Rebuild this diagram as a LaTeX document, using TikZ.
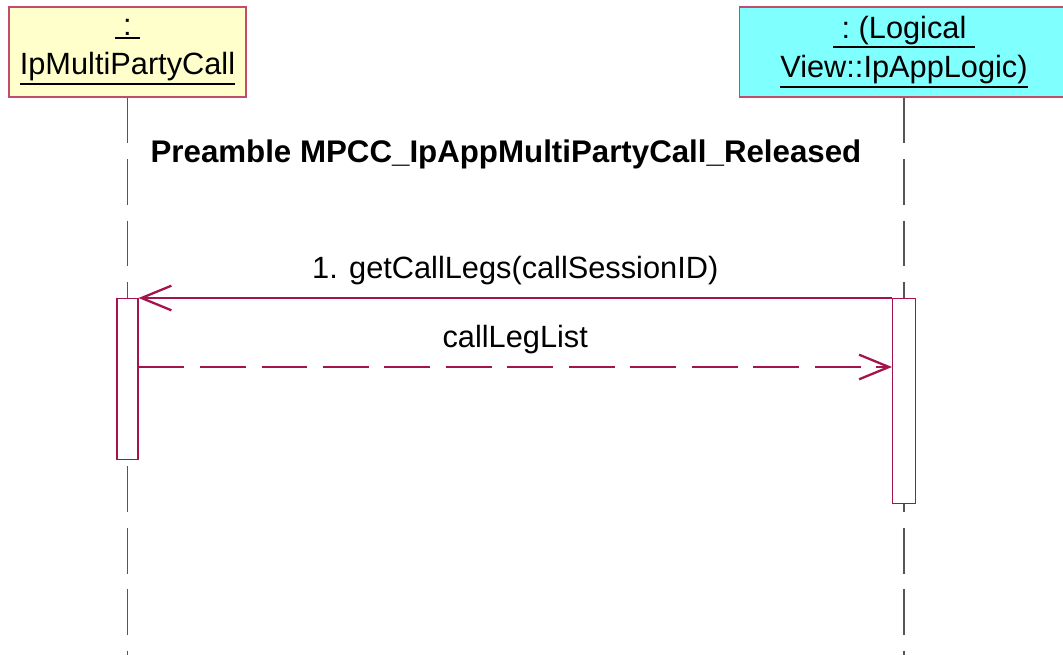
\documentclass[tikz,border=0pt]{standalone}
\usepackage{fontspec}
\setmainfont{Liberation Sans}
\usetikzlibrary{arrows.meta,positioning,calc}
\definecolor{objyellow}{HTML}{FFFFCC}
\definecolor{objcyan}{HTML}{80FFFF}
\definecolor{msgred}{HTML}{A3144C}
\definecolor{boxred}{HTML}{C04D6B}
\definecolor{lifegray}{HTML}{555555}
\newsavebox{\ulbox}
\newcommand{\ulname}[1]{\sbox{\ulbox}{#1}\leavevmode
  \rlap{\rule[\dimexpr-\dp\ulbox-2.2pt\relax]{\wd\ulbox}{1.1pt}}\usebox{\ulbox}}
\tikzset{
  objbox/.style={draw=boxred,line width=0.6pt,align=center,inner sep=0pt,
                 minimum height=1.8cm,font=\fontsize{17.5}{22.7}\selectfont},
  actbox/.style={draw=msgred,fill=white,line width=0.6pt,inner sep=0pt,
                 anchor=north},
  lifeline/.style={draw=lifegray,line width=0.6pt,dash pattern=on 26pt off 9pt},
  callarr/.style={draw=msgred,line width=0.6pt,
                  -{Straight Barb[length=17pt,width=14pt,line width=1.3pt]}},
  replyarr/.style={callarr,dash pattern=on 26pt off 9pt},
  msglabel/.style={font=\fontsize{17.5}{21}\selectfont,inner sep=2pt}
}
\begin{document}
\begin{tikzpicture}[x=0.02cm,y=-0.02cm]
  \useasboundingbox (0,0) rectangle (1063,655);
  % objects
  \node[objbox,fill=objyellow,minimum width=4.74cm] (mpc) at (127.5,52)
    {\ulname{\ :\ }\\\ulname{IpMultiPartyCall}};
  \node[objbox,fill=objcyan,minimum width=6.6cm] (app) at (904,52)
    {\ulname{\ :\ (Logical\ }\\\ulname{View::IpAppLogic)}};
  \coordinate (mpcend) at (127.5,655);
  \coordinate (append) at (904,655);
  \draw[lifeline] (mpc.south) -- (mpcend);
  \draw[lifeline] (app.south) -- (append);

  \node[font=\bfseries\fontsize{17.8}{21}\selectfont] (pre) at (506,154)
    {Preamble MPCC\_IpAppMultiPartyCall\_Released};

  % activations
  \node[actbox,minimum width=0.42cm,minimum height=3.22cm] (actL) at (127.5,298) {};
  \node[actbox,minimum width=0.46cm,minimum height=4.1cm] (actR) at (904,298) {};

  % messages
  \draw[callarr] (actR.north west) -- (actL.north east)
    node[msglabel,midway,above=5pt] {1. getCallLegs(callSessionID)};
  \coordinate (ret) at (0,367);
  \draw[replyarr] (actL.east |- ret) -- (actR.west |- ret)
    node[msglabel,midway,above=5pt] {callLegList};
\end{tikzpicture}
\end{document}
